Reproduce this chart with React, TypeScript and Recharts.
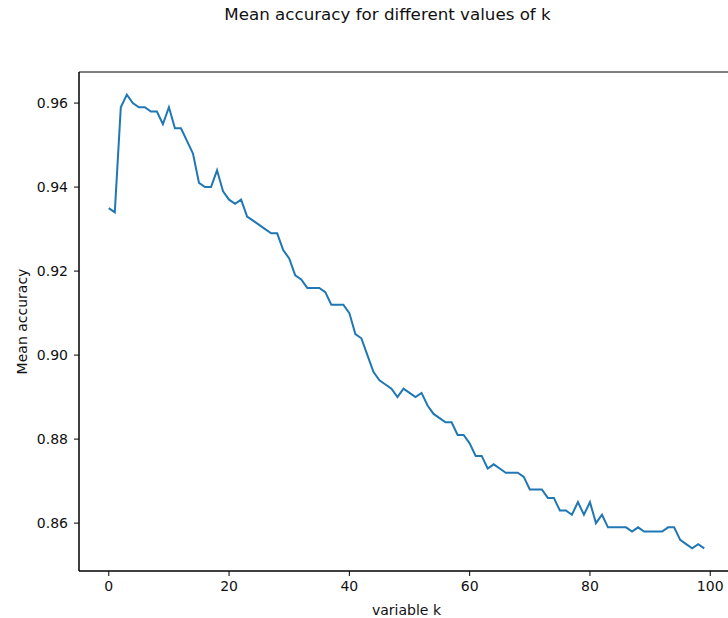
import { LineChart, Line, XAxis, YAxis, ReferenceArea } from "recharts";

// k = 0..99, mean accuracy
const K_VALUES = Array.from({ length: 100 }, (_, i) => i);

const MEAN_ACCURACY = [
  0.935, 0.934, 0.959, 0.962, 0.960, 0.959, 0.959, 0.958, 0.958, 0.955,
  0.959, 0.954, 0.954, 0.951, 0.948, 0.941, 0.940, 0.940, 0.944, 0.939,
  0.937, 0.936, 0.937, 0.933, 0.932, 0.931, 0.930, 0.929, 0.929, 0.925,
  0.923, 0.919, 0.918, 0.916, 0.916, 0.916, 0.915, 0.912, 0.912, 0.912,
  0.910, 0.905, 0.904, 0.900, 0.896, 0.894, 0.893, 0.892, 0.890, 0.892,
  0.891, 0.890, 0.891, 0.888, 0.886, 0.885, 0.884, 0.884, 0.881, 0.881,
  0.879, 0.876, 0.876, 0.873, 0.874, 0.873, 0.872, 0.872, 0.872, 0.871,
  0.868, 0.868, 0.868, 0.866, 0.866, 0.863, 0.863, 0.862, 0.865, 0.862,
  0.865, 0.860, 0.862, 0.859, 0.859, 0.859, 0.859, 0.858, 0.859, 0.858,
  0.858, 0.858, 0.858, 0.859, 0.859, 0.856, 0.855, 0.854, 0.855, 0.854,
];

const X_TICKS = [0, 20, 40, 60, 80, 100];
const Y_TICKS = [0.86, 0.88, 0.9, 0.92, 0.94, 0.96];

const X_DOMAIN: [number, number] = [-4.95, 103.95];
const Y_DOMAIN: [number, number] = [0.8486, 0.9674];

const data = K_VALUES.map((k, i) => ({ k, acc: MEAN_ACCURACY[i] }));

const FONT = "'DejaVu Sans', sans-serif";
const tickStyle = { fontSize: 14, fill: "#111", fontFamily: FONT };

export default function App() {
  return (
    <div
      style={{
        position: "fixed",
        left: 0,
        top: 0,
        width: 728,
        height: 618,
        overflow: "hidden",
        background: "#fff",
        fontFamily: FONT,
      }}
    >
      <div
        style={{
          position: "absolute",
          left: -10,
          width: 795,
          top: 4,
          textAlign: "center",
          fontSize: 16.7,
          color: "#111",
          whiteSpace: "nowrap",
        }}
      >
        Mean accuracy for different values of k
      </div>
      <LineChart
        width={795}
        height={618}
        data={data}
        margin={{ top: 72, right: 61, bottom: 0, left: 0 }}
      >
        <XAxis
          dataKey="k"
          type="number"
          domain={X_DOMAIN}
          ticks={X_TICKS}
          allowDataOverflow
          stroke="#000"
          tick={tickStyle}
          tickSize={5}
          tickMargin={5}
          height={47}
          label={{ value: "variable k", position: "insideBottom", offset: 3, style: { fontSize: 14, fill: "#111", fontFamily: FONT } }}
        />
        <YAxis
          type="number"
          domain={Y_DOMAIN}
          ticks={Y_TICKS}
          allowDataOverflow
          stroke="#000"
          width={79}
          tick={tickStyle}
          tickSize={5}
          tickMargin={6}
          tickFormatter={(v: number) => v.toFixed(2)}
          label={{ value: "Mean accuracy", angle: -90, position: "insideLeft", offset: 22, style: { fontSize: 14, fill: "#111", fontFamily: FONT, textAnchor: "middle" } }}
        />
        <ReferenceArea
          x1={X_DOMAIN[0]}
          x2={X_DOMAIN[1]}
          y1={Y_DOMAIN[0]}
          y2={Y_DOMAIN[1]}
          fill="none"
          stroke="#000"
          strokeWidth={1}
          ifOverflow="visible"
        />
        <Line
          dataKey="acc"
          stroke="#1f77b4"
          strokeWidth={2}
          dot={false}
          isAnimationActive={false}
        />
      </LineChart>
    </div>
  );
}
